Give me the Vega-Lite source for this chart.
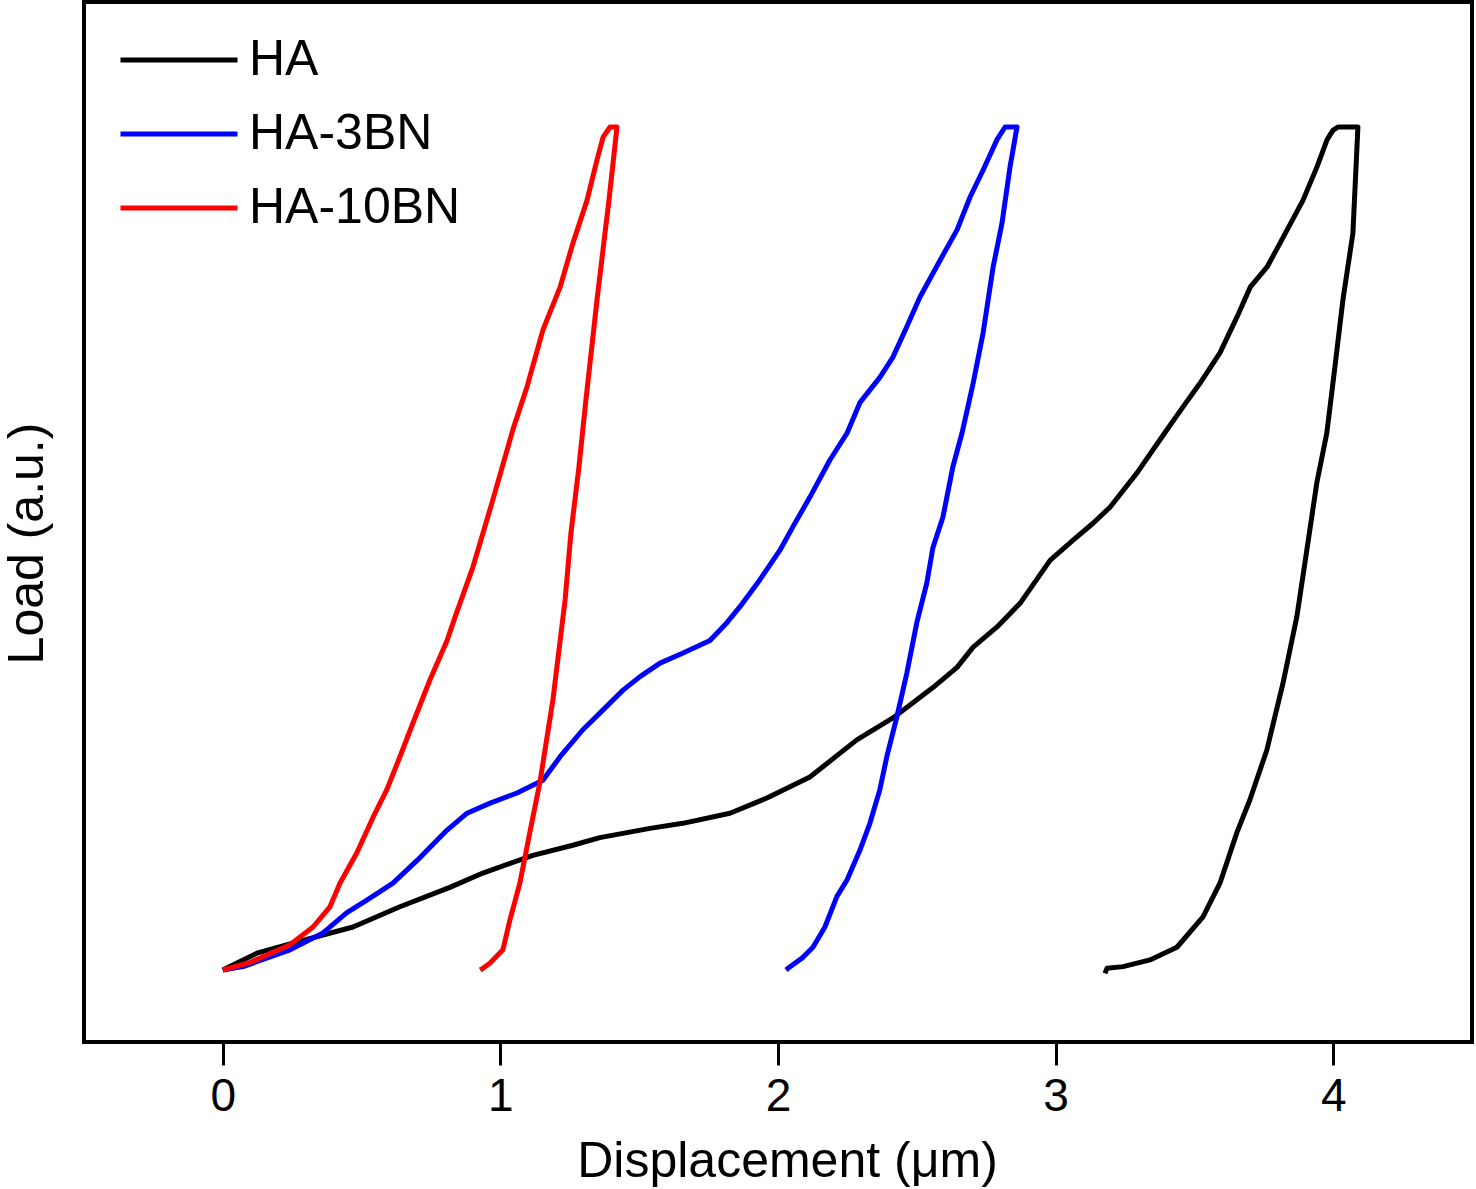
{
  "$schema": "https://vega.github.io/schema/vega-lite/v6.json",
  "autosize": {"type": "none"},
  "padding": {"left": 84, "top": 2, "right": 4, "bottom": 147},
  "width": 1388,
  "height": 1040,
  "background": "white",
  "config": {
    "view": {"stroke": "black", "strokeWidth": 4},
    "font": "Liberation Sans"
  },
  "data": {
    "values": [
      {"s": "HA", "i": 1, "x": 0.0, "y": 0.0},
      {"s": "HA", "i": 2, "x": 0.123, "y": 0.020},
      {"s": "HA", "i": 3, "x": 0.252, "y": 0.032},
      {"s": "HA", "i": 4, "x": 0.469, "y": 0.051},
      {"s": "HA", "i": 5, "x": 0.638, "y": 0.075},
      {"s": "HA", "i": 6, "x": 0.818, "y": 0.098},
      {"s": "HA", "i": 7, "x": 0.937, "y": 0.115},
      {"s": "HA", "i": 8, "x": 1.117, "y": 0.136},
      {"s": "HA", "i": 9, "x": 1.261, "y": 0.148},
      {"s": "HA", "i": 10, "x": 1.358, "y": 0.157},
      {"s": "HA", "i": 11, "x": 1.539, "y": 0.168},
      {"s": "HA", "i": 12, "x": 1.657, "y": 0.174},
      {"s": "HA", "i": 13, "x": 1.827, "y": 0.186},
      {"s": "HA", "i": 14, "x": 1.960, "y": 0.204},
      {"s": "HA", "i": 15, "x": 2.115, "y": 0.229},
      {"s": "HA", "i": 16, "x": 2.284, "y": 0.273},
      {"s": "HA", "i": 17, "x": 2.414, "y": 0.299},
      {"s": "HA", "i": 18, "x": 2.558, "y": 0.335},
      {"s": "HA", "i": 19, "x": 2.645, "y": 0.359},
      {"s": "HA", "i": 20, "x": 2.703, "y": 0.383},
      {"s": "HA", "i": 21, "x": 2.789, "y": 0.407},
      {"s": "HA", "i": 22, "x": 2.872, "y": 0.435},
      {"s": "HA", "i": 23, "x": 2.980, "y": 0.486},
      {"s": "HA", "i": 24, "x": 3.063, "y": 0.510},
      {"s": "HA", "i": 25, "x": 3.135, "y": 0.530},
      {"s": "HA", "i": 26, "x": 3.196, "y": 0.549},
      {"s": "HA", "i": 27, "x": 3.294, "y": 0.590},
      {"s": "HA", "i": 28, "x": 3.376, "y": 0.629},
      {"s": "HA", "i": 29, "x": 3.459, "y": 0.668},
      {"s": "HA", "i": 30, "x": 3.520, "y": 0.696},
      {"s": "HA", "i": 31, "x": 3.592, "y": 0.732},
      {"s": "HA", "i": 32, "x": 3.654, "y": 0.775},
      {"s": "HA", "i": 33, "x": 3.701, "y": 0.810},
      {"s": "HA", "i": 34, "x": 3.762, "y": 0.834},
      {"s": "HA", "i": 35, "x": 3.808, "y": 0.862},
      {"s": "HA", "i": 36, "x": 3.891, "y": 0.913},
      {"s": "HA", "i": 37, "x": 3.942, "y": 0.953},
      {"s": "HA", "i": 38, "x": 3.978, "y": 0.985},
      {"s": "HA", "i": 39, "x": 3.999, "y": 0.996},
      {"s": "HA", "i": 40, "x": 4.017, "y": 1.0},
      {"s": "HA", "i": 41, "x": 4.089, "y": 1.0},
      {"s": "HA", "i": 42, "x": 4.071, "y": 0.874},
      {"s": "HA", "i": 43, "x": 4.035, "y": 0.795},
      {"s": "HA", "i": 44, "x": 4.006, "y": 0.715},
      {"s": "HA", "i": 45, "x": 3.977, "y": 0.637},
      {"s": "HA", "i": 46, "x": 3.941, "y": 0.578},
      {"s": "HA", "i": 47, "x": 3.905, "y": 0.498},
      {"s": "HA", "i": 48, "x": 3.869, "y": 0.419},
      {"s": "HA", "i": 49, "x": 3.819, "y": 0.340},
      {"s": "HA", "i": 50, "x": 3.761, "y": 0.261},
      {"s": "HA", "i": 51, "x": 3.700, "y": 0.202},
      {"s": "HA", "i": 52, "x": 3.653, "y": 0.163},
      {"s": "HA", "i": 53, "x": 3.592, "y": 0.103},
      {"s": "HA", "i": 54, "x": 3.531, "y": 0.063},
      {"s": "HA", "i": 55, "x": 3.437, "y": 0.027},
      {"s": "HA", "i": 56, "x": 3.340, "y": 0.012},
      {"s": "HA", "i": 57, "x": 3.243, "y": 0.004},
      {"s": "HA", "i": 58, "x": 3.185, "y": 0.002},
      {"s": "HA", "i": 59, "x": 3.178, "y": -0.004},

      {"s": "HA-3BN", "i": 1, "x": 0.0, "y": 0.0},
      {"s": "HA-3BN", "i": 2, "x": 0.073, "y": 0.004},
      {"s": "HA-3BN", "i": 3, "x": 0.242, "y": 0.024},
      {"s": "HA-3BN", "i": 4, "x": 0.361, "y": 0.044},
      {"s": "HA-3BN", "i": 5, "x": 0.447, "y": 0.068},
      {"s": "HA-3BN", "i": 6, "x": 0.519, "y": 0.083},
      {"s": "HA-3BN", "i": 7, "x": 0.613, "y": 0.103},
      {"s": "HA-3BN", "i": 8, "x": 0.700, "y": 0.130},
      {"s": "HA-3BN", "i": 9, "x": 0.808, "y": 0.166},
      {"s": "HA-3BN", "i": 10, "x": 0.880, "y": 0.186},
      {"s": "HA-3BN", "i": 11, "x": 0.963, "y": 0.198},
      {"s": "HA-3BN", "i": 12, "x": 1.060, "y": 0.210},
      {"s": "HA-3BN", "i": 13, "x": 1.153, "y": 0.225},
      {"s": "HA-3BN", "i": 14, "x": 1.215, "y": 0.253},
      {"s": "HA-3BN", "i": 15, "x": 1.297, "y": 0.285},
      {"s": "HA-3BN", "i": 16, "x": 1.359, "y": 0.305},
      {"s": "HA-3BN", "i": 17, "x": 1.442, "y": 0.332},
      {"s": "HA-3BN", "i": 18, "x": 1.503, "y": 0.348},
      {"s": "HA-3BN", "i": 19, "x": 1.575, "y": 0.364},
      {"s": "HA-3BN", "i": 20, "x": 1.658, "y": 0.376},
      {"s": "HA-3BN", "i": 21, "x": 1.755, "y": 0.391},
      {"s": "HA-3BN", "i": 22, "x": 1.816, "y": 0.412},
      {"s": "HA-3BN", "i": 23, "x": 1.863, "y": 0.431},
      {"s": "HA-3BN", "i": 24, "x": 1.935, "y": 0.463},
      {"s": "HA-3BN", "i": 25, "x": 2.007, "y": 0.498},
      {"s": "HA-3BN", "i": 26, "x": 2.054, "y": 0.526},
      {"s": "HA-3BN", "i": 27, "x": 2.115, "y": 0.561},
      {"s": "HA-3BN", "i": 28, "x": 2.187, "y": 0.605},
      {"s": "HA-3BN", "i": 29, "x": 2.249, "y": 0.637},
      {"s": "HA-3BN", "i": 30, "x": 2.295, "y": 0.673},
      {"s": "HA-3BN", "i": 31, "x": 2.367, "y": 0.703},
      {"s": "HA-3BN", "i": 32, "x": 2.414, "y": 0.727},
      {"s": "HA-3BN", "i": 33, "x": 2.464, "y": 0.763},
      {"s": "HA-3BN", "i": 34, "x": 2.511, "y": 0.798},
      {"s": "HA-3BN", "i": 35, "x": 2.584, "y": 0.842},
      {"s": "HA-3BN", "i": 36, "x": 2.645, "y": 0.878},
      {"s": "HA-3BN", "i": 37, "x": 2.692, "y": 0.917},
      {"s": "HA-3BN", "i": 38, "x": 2.739, "y": 0.949},
      {"s": "HA-3BN", "i": 39, "x": 2.789, "y": 0.985},
      {"s": "HA-3BN", "i": 40, "x": 2.818, "y": 1.0},
      {"s": "HA-3BN", "i": 41, "x": 2.861, "y": 1.0},
      {"s": "HA-3BN", "i": 42, "x": 2.836, "y": 0.953},
      {"s": "HA-3BN", "i": 43, "x": 2.807, "y": 0.886},
      {"s": "HA-3BN", "i": 44, "x": 2.775, "y": 0.834},
      {"s": "HA-3BN", "i": 45, "x": 2.739, "y": 0.756},
      {"s": "HA-3BN", "i": 46, "x": 2.703, "y": 0.696},
      {"s": "HA-3BN", "i": 47, "x": 2.663, "y": 0.637},
      {"s": "HA-3BN", "i": 48, "x": 2.630, "y": 0.597},
      {"s": "HA-3BN", "i": 49, "x": 2.594, "y": 0.537},
      {"s": "HA-3BN", "i": 50, "x": 2.558, "y": 0.501},
      {"s": "HA-3BN", "i": 51, "x": 2.536, "y": 0.459},
      {"s": "HA-3BN", "i": 52, "x": 2.500, "y": 0.412},
      {"s": "HA-3BN", "i": 53, "x": 2.464, "y": 0.352},
      {"s": "HA-3BN", "i": 54, "x": 2.428, "y": 0.300},
      {"s": "HA-3BN", "i": 55, "x": 2.392, "y": 0.253},
      {"s": "HA-3BN", "i": 56, "x": 2.367, "y": 0.214},
      {"s": "HA-3BN", "i": 57, "x": 2.331, "y": 0.174},
      {"s": "HA-3BN", "i": 58, "x": 2.295, "y": 0.142},
      {"s": "HA-3BN", "i": 59, "x": 2.249, "y": 0.107},
      {"s": "HA-3BN", "i": 60, "x": 2.212, "y": 0.087},
      {"s": "HA-3BN", "i": 61, "x": 2.169, "y": 0.051},
      {"s": "HA-3BN", "i": 62, "x": 2.126, "y": 0.027},
      {"s": "HA-3BN", "i": 63, "x": 2.090, "y": 0.015},
      {"s": "HA-3BN", "i": 64, "x": 2.061, "y": 0.008},
      {"s": "HA-3BN", "i": 65, "x": 2.036, "y": 0.002},
      {"s": "HA-3BN", "i": 66, "x": 2.029, "y": 0.0},

      {"s": "HA-10BN", "i": 1, "x": 0.0, "y": 0.0},
      {"s": "HA-10BN", "i": 2, "x": 0.098, "y": 0.009},
      {"s": "HA-10BN", "i": 3, "x": 0.242, "y": 0.030},
      {"s": "HA-10BN", "i": 4, "x": 0.325, "y": 0.051},
      {"s": "HA-10BN", "i": 5, "x": 0.386, "y": 0.075},
      {"s": "HA-10BN", "i": 6, "x": 0.422, "y": 0.103},
      {"s": "HA-10BN", "i": 7, "x": 0.483, "y": 0.139},
      {"s": "HA-10BN", "i": 8, "x": 0.541, "y": 0.181},
      {"s": "HA-10BN", "i": 9, "x": 0.591, "y": 0.214},
      {"s": "HA-10BN", "i": 10, "x": 0.638, "y": 0.253},
      {"s": "HA-10BN", "i": 11, "x": 0.685, "y": 0.293},
      {"s": "HA-10BN", "i": 12, "x": 0.746, "y": 0.344},
      {"s": "HA-10BN", "i": 13, "x": 0.808, "y": 0.391},
      {"s": "HA-10BN", "i": 14, "x": 0.836, "y": 0.418},
      {"s": "HA-10BN", "i": 15, "x": 0.901, "y": 0.478},
      {"s": "HA-10BN", "i": 16, "x": 0.973, "y": 0.558},
      {"s": "HA-10BN", "i": 17, "x": 1.045, "y": 0.641},
      {"s": "HA-10BN", "i": 18, "x": 1.096, "y": 0.692},
      {"s": "HA-10BN", "i": 19, "x": 1.153, "y": 0.759},
      {"s": "HA-10BN", "i": 20, "x": 1.215, "y": 0.810},
      {"s": "HA-10BN", "i": 21, "x": 1.261, "y": 0.862},
      {"s": "HA-10BN", "i": 22, "x": 1.312, "y": 0.913},
      {"s": "HA-10BN", "i": 23, "x": 1.348, "y": 0.961},
      {"s": "HA-10BN", "i": 24, "x": 1.370, "y": 0.988},
      {"s": "HA-10BN", "i": 25, "x": 1.395, "y": 1.0},
      {"s": "HA-10BN", "i": 26, "x": 1.420, "y": 1.0},
      {"s": "HA-10BN", "i": 27, "x": 1.391, "y": 0.913},
      {"s": "HA-10BN", "i": 28, "x": 1.348, "y": 0.795},
      {"s": "HA-10BN", "i": 29, "x": 1.308, "y": 0.676},
      {"s": "HA-10BN", "i": 30, "x": 1.283, "y": 0.597},
      {"s": "HA-10BN", "i": 31, "x": 1.254, "y": 0.518},
      {"s": "HA-10BN", "i": 32, "x": 1.233, "y": 0.439},
      {"s": "HA-10BN", "i": 33, "x": 1.189, "y": 0.320},
      {"s": "HA-10BN", "i": 34, "x": 1.142, "y": 0.222},
      {"s": "HA-10BN", "i": 35, "x": 1.106, "y": 0.163},
      {"s": "HA-10BN", "i": 36, "x": 1.070, "y": 0.103},
      {"s": "HA-10BN", "i": 37, "x": 1.034, "y": 0.059},
      {"s": "HA-10BN", "i": 38, "x": 1.009, "y": 0.024},
      {"s": "HA-10BN", "i": 39, "x": 0.962, "y": 0.008},
      {"s": "HA-10BN", "i": 40, "x": 0.937, "y": 0.002},
      {"s": "HA-10BN", "i": 41, "x": 0.927, "y": 0.0}
    ]
  },
  "mark": {"type": "line", "strokeWidth": 5, "strokeJoin": "round", "strokeCap": "butt"},
  "encoding": {
    "x": {
      "field": "x",
      "type": "quantitative",
      "scale": {"domain": [-0.5, 4.5], "nice": false, "zero": false},
      "axis": {
        "title": "Displacement (μm)",
        "values": [0, 1, 2, 3, 4],
        "format": "d",
        "grid": false,
        "domain": false,
        "ticks": true,
        "tickSize": 23,
        "tickWidth": 3,
        "tickColor": "black",
        "labelFont": "Liberation Sans",
        "labelFontSize": 46,
        "labelColor": "black",
        "labelBaseline": "alphabetic",
        "labelPadding": 45,
        "labelFlush": false,
        "titleFont": "Liberation Sans",
        "titleFontSize": 50,
        "titleFontWeight": "normal",
        "titleColor": "black",
        "titleBaseline": "alphabetic",
        "titleX": 703,
        "titleY": 134
      }
    },
    "y": {
      "field": "y",
      "type": "quantitative",
      "scale": {"domain": [-0.0854, 1.1483], "nice": false, "zero": false},
      "axis": {
        "title": "Load (a.u.)",
        "grid": false,
        "domain": false,
        "ticks": false,
        "labels": false,
        "titleFont": "Liberation Sans",
        "titleFontSize": 50,
        "titleFontWeight": "normal",
        "titleColor": "black",
        "titleAngle": -90,
        "titleAlign": "center",
        "titleBaseline": "alphabetic",
        "titleX": -42,
        "titleY": 541
      }
    },
    "color": {
      "field": "s",
      "type": "nominal",
      "scale": {"domain": ["HA", "HA-3BN", "HA-10BN"], "range": ["#000000", "#0000ff", "#ff0000"]},
      "legend": {
        "title": null,
        "orient": "none",
        "legendX": 70,
        "legendY": 33,
        "padding": 0,
        "symbolType": "M-3,0H3",
        "symbolSize": 1521,
        "symbolStrokeWidth": 5,
        "labelFont": "Liberation Sans",
        "labelFontSize": 50,
        "labelColor": "black",
        "labelOffset": 45,
        "rowPadding": 24,
        "labelLimit": 0
      }
    },
    "order": {"field": "i", "type": "quantitative"}
  }
}
